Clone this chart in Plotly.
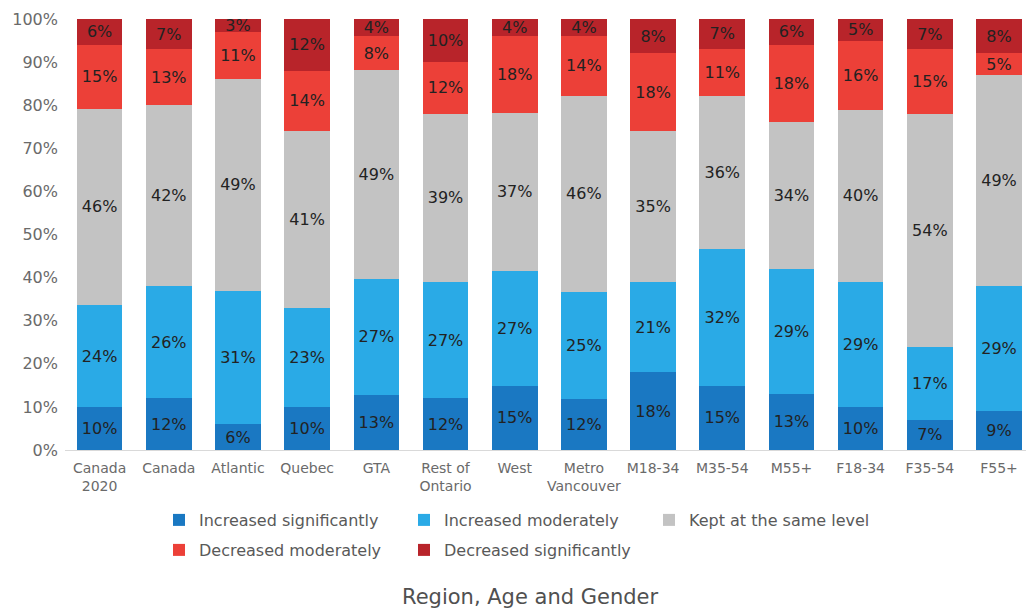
import plotly.graph_objects as go

categories = ["Canada<br>2020", "Canada", "Atlantic", "Quebec", "GTA", "Rest of<br>Ontario",
              "West", "Metro<br>Vancouver", "M18-34", "M35-54", "M55+", "F18-34", "F35-54", "F55+"]
inc_sig = [10, 12, 6, 10, 13, 12, 15, 12, 18, 15, 13, 10, 7, 9]
inc_mod = [24, 26, 31, 23, 27, 27, 27, 25, 21, 32, 29, 29, 17, 29]
same = [46, 42, 49, 41, 49, 39, 37, 46, 35, 36, 34, 40, 54, 49]
dec_mod = [15, 13, 11, 14, 8, 12, 18, 14, 18, 11, 18, 16, 15, 5]
dec_sig = [6, 7, 3, 12, 4, 10, 4, 4, 8, 7, 6, 5, 7, 8]

series = [
    ("Increased significantly", inc_sig, "#1A78C2", "legend"),
    ("Increased moderately", inc_mod, "#2AAAE6", "legend"),
    ("Kept at the same level", same, "#C3C3C3", "legend"),
    ("Decreased moderately", dec_mod, "#EC4038", "legend2"),
    ("Decreased significantly", dec_sig, "#B8242A", "legend2"),
]

FONT = "DejaVu Sans, sans-serif"

fig = go.Figure()
for name, vals, color, lg in series:
    fig.add_trace(go.Bar(
        x=list(range(len(categories))), y=vals, name=name,
        marker=dict(color=color, line=dict(width=0)),
        text=[f"{v}%" for v in vals],
        textposition="inside", insidetextanchor="middle",
        textangle=0, constraintext="none",
        textfont=dict(size=16, color="#222222", family=FONT),
        legend=lg,
    ))

plot_l, plot_t, plot_b = 65, 19, 450
H = 609
ph = plot_b - plot_t

def py(pix):
    return (plot_b - pix) / ph

legend_common = dict(orientation="h", xanchor="left", yanchor="middle",
                     entrywidth=200, entrywidthmode="pixels", traceorder="normal",
                     font=dict(size=16, color="#595959", family=FONT), itemwidth=30,
                     bgcolor="rgba(0,0,0,0)")

fig.update_layout(
    width=1026, height=609,
    barmode="stack", barnorm="percent", bargap=0.34,
    margin=dict(l=plot_l, r=0, t=plot_t, b=H - plot_b),
    paper_bgcolor="white", plot_bgcolor="white",
    font=dict(family=FONT, color="#595959"),
    uniformtext=dict(minsize=16, mode="show"),
    xaxis=dict(
        tickmode="array", tickvals=list(range(len(categories))), ticktext=categories,
        range=[-0.5, 13.39], showgrid=False, zeroline=False,
        showline=False, ticks="", tickfont=dict(size=14, color="#6A6A6A"),
        ticklabelstandoff=8,
    ),
    yaxis=dict(
        range=[0, 100], tickvals=list(range(0, 101, 10)),
        ticktext=[f"{v}%" for v in range(0, 101, 10)],
        showgrid=False, zeroline=True, zerolinecolor="#D9D9D9", zerolinewidth=1,
        tickfont=dict(size=16, color="#6A6A6A"), ticks="", ticklabelstandoff=6,
    ),
    legend=dict(x=(159 - plot_l) / 961, y=py(520), **legend_common),
    legend2=dict(x=(159 - plot_l) / 961, y=py(550), **legend_common),
    annotations=[dict(text="Region, Age and Gender", xref="paper", yref="paper",
                      x=(530 - plot_l) / 961, y=py(597), xanchor="center", yanchor="middle",
                      showarrow=False, font=dict(size=21, color="#505050", family=FONT))],
    showlegend=True,
)

fig.write_html("out.html")
